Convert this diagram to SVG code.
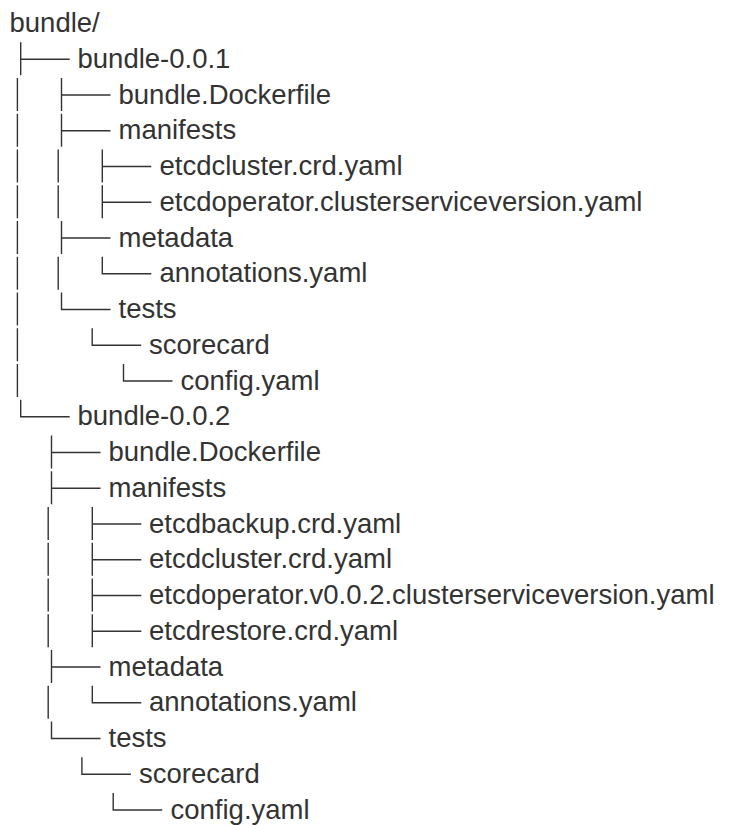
<svg xmlns="http://www.w3.org/2000/svg" xmlns:xlink="http://www.w3.org/1999/xlink" width="731" height="825" viewBox="0 0 731 825">
  <style>
    .t { font-family: "Liberation Sans", Arial, Helvetica, sans-serif; font-size: 27.5px; fill: #333333; }
    .ln { fill: none; stroke: #333333; stroke-width: 1.4; }
  </style>
  <defs>
    <path id="tee" class="ln" d="M0,-25.5 V7.5 M0,-8.5 H49"/>
    <path id="elbow" class="ln" d="M0,-25.5 V-8.5 H49"/>
    <path id="bar" class="ln" d="M0,-25.5 V7.5"/>
  </defs>
  <rect width="731" height="825" fill="#ffffff"/>

  <g id="connectors">
    <!-- bundle/ children -->
    <use xlink:href="#tee" x="20.7" y="67.75"/>
    <use xlink:href="#elbow" x="20.7" y="425.25"/>
    <!-- continuation bars for bundle-0.0.1 -->
    <use xlink:href="#bar" x="17.4" y="103.5"/>
    <use xlink:href="#bar" x="17.4" y="139.25"/>
    <use xlink:href="#bar" x="17.4" y="175"/>
    <use xlink:href="#bar" x="17.4" y="210.75"/>
    <use xlink:href="#bar" x="17.4" y="246.5"/>
    <use xlink:href="#bar" x="17.4" y="282.25"/>
    <use xlink:href="#bar" x="17.4" y="318"/>
    <use xlink:href="#bar" x="17.4" y="353.75"/>
    <use xlink:href="#bar" x="17.4" y="389.5"/>
    <!-- bundle-0.0.1 children -->
    <use xlink:href="#tee" x="61.5" y="103.5"/>
    <use xlink:href="#tee" x="61.5" y="139.25"/>
    <use xlink:href="#tee" x="61.5" y="246.5"/>
    <use xlink:href="#elbow" x="61.5" y="318"/>
    <use xlink:href="#bar" x="58.2" y="175"/>
    <use xlink:href="#bar" x="58.2" y="210.75"/>
    <use xlink:href="#bar" x="58.2" y="282.25"/>
    <!-- manifests (0.0.1) -->
    <use xlink:href="#tee" x="102.3" y="175"/>
    <use xlink:href="#tee" x="102.3" y="210.75"/>
    <!-- metadata (0.0.1) -->
    <use xlink:href="#elbow" x="102.3" y="282.25"/>
    <!-- tests / scorecard (0.0.1) -->
    <use xlink:href="#elbow" x="92.2" y="353.75"/>
    <use xlink:href="#elbow" x="123.5" y="389.5"/>
    <!-- bundle-0.0.2 children -->
    <use xlink:href="#tee" x="51.5" y="461"/>
    <use xlink:href="#tee" x="51.5" y="496.75"/>
    <use xlink:href="#tee" x="51.5" y="675.5"/>
    <use xlink:href="#elbow" x="51.5" y="747"/>
    <use xlink:href="#bar" x="48.2" y="532.5"/>
    <use xlink:href="#bar" x="48.2" y="568.25"/>
    <use xlink:href="#bar" x="48.2" y="604"/>
    <use xlink:href="#bar" x="48.2" y="639.75"/>
    <use xlink:href="#bar" x="48.2" y="711.25"/>
    <!-- manifests (0.0.2) -->
    <use xlink:href="#tee" x="92.3" y="532.5"/>
    <use xlink:href="#tee" x="92.3" y="568.25"/>
    <use xlink:href="#tee" x="92.3" y="604"/>
    <use xlink:href="#tee" x="92.3" y="639.75"/>
    <!-- metadata (0.0.2) -->
    <use xlink:href="#elbow" x="92.3" y="711.25"/>
    <!-- tests / scorecard (0.0.2) -->
    <use xlink:href="#elbow" x="81.9" y="782.75"/>
    <use xlink:href="#elbow" x="113.2" y="818.5"/>
  </g>

  <g id="bundle-root"><text class="t" x="9.5" y="32">bundle/</text></g>

  <g id="b1"><text class="t" x="77.5" y="67.75">bundle-0.0.1</text></g>
  <g id="b1-dockerfile"><text class="t" x="118.5" y="103.5">bundle.Dockerfile</text></g>
  <g id="b1-manifests"><text class="t" x="118.5" y="139.25">manifests</text></g>
  <g id="b1-etcdcluster"><text class="t" x="159.5" y="175">etcdcluster.crd.yaml</text></g>
  <g id="b1-csv"><text class="t" x="159.5" y="210.75">etcdoperator.clusterserviceversion.yaml</text></g>
  <g id="b1-metadata"><text class="t" x="118.5" y="246.5">metadata</text></g>
  <g id="b1-annotations"><text class="t" x="159.5" y="282.25">annotations.yaml</text></g>
  <g id="b1-tests"><text class="t" x="118.5" y="318">tests</text></g>
  <g id="b1-scorecard"><text class="t" x="149" y="353.75">scorecard</text></g>
  <g id="b1-config"><text class="t" x="180.5" y="389.5">config.yaml</text></g>

  <g id="b2"><text class="t" x="77.5" y="425.25">bundle-0.0.2</text></g>
  <g id="b2-dockerfile"><text class="t" x="108.5" y="461">bundle.Dockerfile</text></g>
  <g id="b2-manifests"><text class="t" x="108.5" y="496.75">manifests</text></g>
  <g id="b2-etcdbackup"><text class="t" x="149" y="532.5">etcdbackup.crd.yaml</text></g>
  <g id="b2-etcdcluster"><text class="t" x="149" y="568.25">etcdcluster.crd.yaml</text></g>
  <g id="b2-csv"><text class="t" x="149" y="604">etcdoperator.v0.0.2.clusterserviceversion.yaml</text></g>
  <g id="b2-etcdrestore"><text class="t" x="149" y="639.75">etcdrestore.crd.yaml</text></g>
  <g id="b2-metadata"><text class="t" x="108.5" y="675.5">metadata</text></g>
  <g id="b2-annotations"><text class="t" x="149" y="711.25">annotations.yaml</text></g>
  <g id="b2-tests"><text class="t" x="108.5" y="747">tests</text></g>
  <g id="b2-scorecard"><text class="t" x="139" y="782.75">scorecard</text></g>
  <g id="b2-config"><text class="t" x="170.5" y="818.5">config.yaml</text></g>
</svg>
